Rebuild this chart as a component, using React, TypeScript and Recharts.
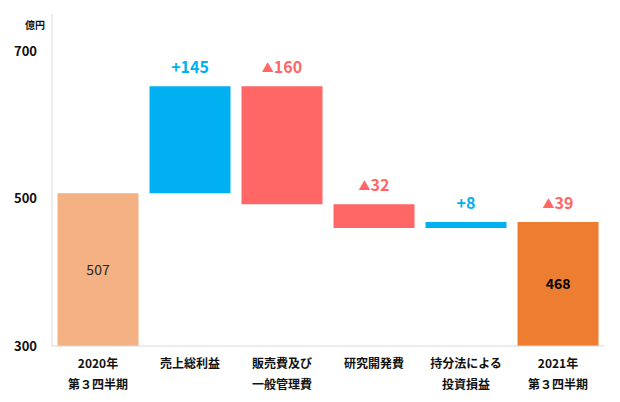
import { BarChart, Bar, Cell, XAxis, YAxis, LabelList } from 'recharts';

// 億円
const categories = ['2020年\n第３四半期', '売上総利益', '販売費及び\n一般管理費', '研究開発費', '持分法による\n投資損益', '2021年\n第３四半期'];
const startTotal = 507;
const changes = [145, -160, -32, 8];
const endTotal = 468;
const yTicks = [300, 500, 700];

const FLOOR = 300;
const COLOR_START = '#F4B183';
const COLOR_END = '#ED7D31';
const COLOR_UP = '#00B0F0';
const COLOR_DOWN = '#FF6666';
const FONT = '"Noto Sans CJK JP", "Noto Sans", sans-serif';

// build waterfall ranges
const buildData = () => {
    const rows: any[] = [];
    rows.push({ name: categories[0], range: [FLOOR, startTotal], color: COLOR_START, delta: null, inner: String(startTotal), innerBold: false });
    let run = startTotal;
    changes.forEach((c, i) => {
        const next = run + c;
        rows.push({
            name: categories[i + 1],
            range: [Math.min(run, next), Math.max(run, next)],
            color: c >= 0 ? COLOR_UP : COLOR_DOWN,
            delta: c,
            inner: '',
            innerBold: false,
        });
        run = next;
    });
    rows.push({
        name: categories[categories.length - 1],
        range: [FLOOR, endTotal],
        color: COLOR_END,
        delta: endTotal - startTotal,
        inner: String(endTotal),
        innerBold: true,
    });
    return rows;
};

const data = buildData();

const XTick = (props: any) => {
    const { x, y, payload } = props;
    const lines = String(payload.value).split('\n');
    return (
        <text x={x} y={y} textAnchor="middle" fontFamily={FONT} fontSize={12} fontWeight="bold" fill="#111">
            {lines.map((l, i) => (
                <tspan key={i} x={x} dy={i === 0 ? 14 : 21}>{l}</tspan>
            ))}
        </text>
    );
};

const TopLabel = (props: any) => {
    const { x, y, width, index } = props;
    const row = data[index];
    if (row.delta === null) return null;
    const up = row.delta >= 0;
    const color = up ? COLOR_UP : COLOR_DOWN;
    return (
        <text x={x + width / 2} y={y - 13} textAnchor="middle" fontFamily={FONT} fontSize={16} fontWeight="bold" fill={color}>
            {up ? (
                `+${row.delta}`
            ) : (
                <>
                    <tspan fontSize={12}>▲</tspan>
                    <tspan>{Math.abs(row.delta)}</tspan>
                </>
            )}
        </text>
    );
};

const InnerLabel = (props: any) => {
    const { x, y, width, height, index } = props;
    const row = data[index];
    if (!row.inner) return null;
    return (
        <text x={x + width / 2} y={y + height / 2 + 5} textAnchor="middle" fontFamily={FONT} fontSize={14} fontWeight={row.innerBold ? 'bold' : 'normal'} fill={row.innerBold ? '#000' : '#262626'}>
            {row.inner}
        </text>
    );
};

const UnitLabel = (props: any) => {
    const { viewBox } = props;
    return (
        <text x={viewBox.x + viewBox.width - 7} y={viewBox.y + 15} textAnchor="end" fontFamily={FONT} fontSize={10} fontWeight="bold" fill="#111">
            億円
        </text>
    );
};

export default function App() {
    return (
        <div style={{ position: 'absolute', left: 0, top: 0, background: '#fff' }}>
            <BarChart width={620} height={402} data={data} margin={{ top: 14, right: 16, bottom: 0, left: 0 }} barCategoryGap="6%">
                <XAxis
                    dataKey="name"
                    interval={0}
                    tick={<XTick />}
                    tickLine={false}
                    axisLine={{ stroke: '#D9D9D9' }}
                    height={56}
                />
                <YAxis
                    domain={[300, 750]}
                    ticks={yTicks}
                    allowDataOverflow
                    width={52}
                    tickLine={false}
                    tickSize={0}
                    tickMargin={15}
                    axisLine={{ stroke: '#D9D9D9' }}
                    tick={{ fontFamily: FONT, fontSize: 13, fontWeight: 'bold', fill: '#111' }}
                    label={<UnitLabel />}
                />
                <Bar dataKey="range" isAnimationActive={false}>
                    {data.map((d, i) => (
                        <Cell key={`cell-${i}`} fill={d.color} />
                    ))}
                    <LabelList dataKey="delta" content={<TopLabel />} />
                    <LabelList dataKey="inner" content={<InnerLabel />} />
                </Bar>
            </BarChart>
        </div>
    );
}
